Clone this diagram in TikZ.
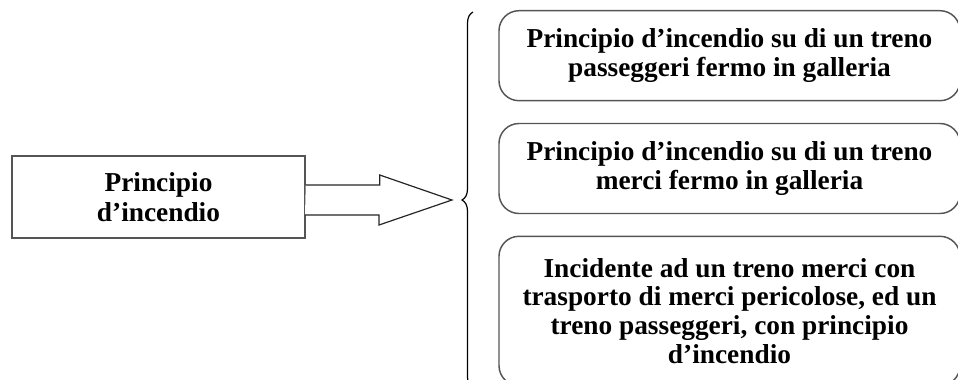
\documentclass[tikz,border=0pt]{standalone}
\usepackage{fontspec}
\setmainfont{Liberation Serif}
\usetikzlibrary{positioning, decorations.pathreplacing}

\begin{document}
\begin{tikzpicture}[x=0.75pt, y=-0.75pt, node distance=16pt and 2cm,
cause/.style={draw=boxgray, line width=1.1pt, minimum width=219.75pt, minimum height=61.5pt, align=center, font=\fontsize{20.5}{22.5}\selectfont\bfseries},
scenario/.style={draw=boxgray, line width=1.1pt, rounded corners=15pt, minimum width=345.75pt, minimum height=67.5pt, align=center, font=\fontsize{20.5}{21.5}\selectfont\bfseries},
blockarrow/.style={draw=black!85, line width=0.9pt, fill=white},
curly/.style={draw=black, line width=0.9pt, decorate, decoration={brace, amplitude=8.25pt}} ]

% Define colors
\definecolor{boxgray}{RGB}{85, 85, 85}

% Frame
\useasboundingbox (0,0) rectangle (958,379);
\clip (0,0) rectangle (958,379);

% Nodes
\node[cause] (cause) at (158.5,197) {Principio\\ d’incendio};
\node[scenario] (freight) at (729.5,168.5) {Principio d’incendio su di un treno\\ merci fermo in galleria};
\node[scenario, above=of freight] (passenger) {Principio d’incendio su di un treno\\ passeggeri fermo in galleria};
\node[scenario, below=of freight, minimum height=112pt] (accident) {Incidente ad un treno merci con\\ trasporto di merci pericolose, ed un\\ treno passeggeri, con principio\\ d’incendio};

% Brace
\coordinate (bracetop) at (473,12);
\coordinate (bracebot) at (473,388);
\coordinate (tip) at (452,200);
\draw[curly] (bracebot) -- (bracetop);

% Arrow
\draw[blockarrow] (cause.east) ++(0,-12) -- ++(74,0) -- ++(0,-10) -- (tip) -- ++(-73,25) -- ++(0,-10) -- ++(-74,0);

\end{tikzpicture}
\end{document}
